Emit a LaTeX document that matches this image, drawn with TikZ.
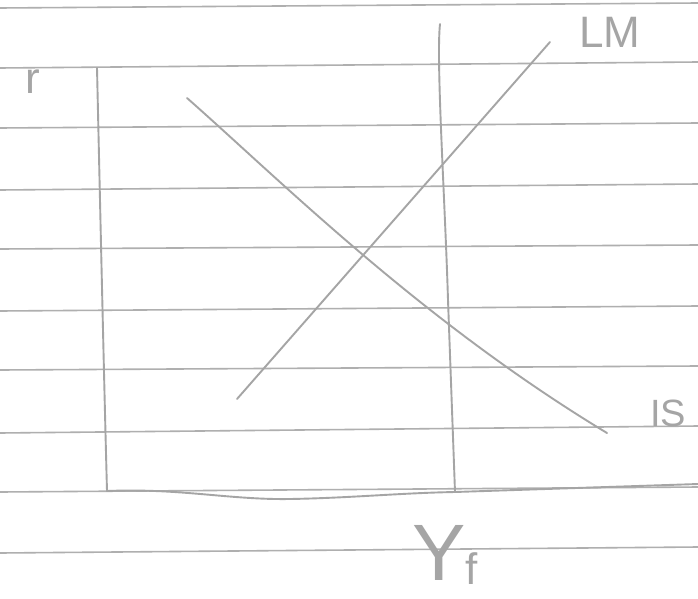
\documentclass[tikz,border=0pt]{standalone}
\usepackage{fontspec}
\setmainfont{Liberation Sans}
\definecolor{pencil}{RGB}{165,165,165}
\definecolor{rule}{RGB}{175,175,175}
\tikzset{
  paperline/.style={draw=rule, line width=1.6pt},
  stroke/.style={draw=pencil, line width=1.9pt, line cap=round, line join=round},
  hand/.style={text=pencil, inner sep=0pt, font=\fontsize{44}{44}\selectfont}
}
\begin{document}
\begin{tikzpicture}[x=1pt,y=-1pt]
\useasboundingbox[fill=white] (0,0) rectangle (698,599);
% ruled paper
\foreach \l/\r in {8/3,68/62,128/123,190/184,249/245,311/306,370/366,433/426,492/487,553/547}{
  \draw[paperline] (0,\l) -- (698,\r);
}
% axes
\coordinate (otop) at (97,68);
\coordinate (orig) at (107,491);
\coordinate (yftop) at (440,24);
\coordinate (yfbot) at (455,492);
\coordinate (xend) at (698,484);
\draw[stroke] (otop) .. controls (100,200) and (104,380) .. (orig);
\draw[stroke] (orig) .. controls (180,488) and (230,500) .. (290,499)
  .. controls (350,498) and (400,493) .. (yfbot) -- (xend);
\draw[stroke] (yftop) .. controls (436,60) and (445,200) .. (448,300) -- (yfbot);
% LM and IS
\coordinate (lma) at (237,399);
\coordinate (lmb) at (550,42);
\coordinate (isa) at (187,98);
\coordinate (isb) at (607,433);
\draw[stroke] (lma) -- (lmb);
\draw[stroke] (isa) .. controls (280,180) and (420,320) .. (isb);
% labels
\node[hand] (r) at (33,82) {r};
\node[hand] (LM) at (610,32) {LM};
\node[hand, font=\fontsize{38}{38}\selectfont] (IS) at (668,413) {IS};
\node[hand, font=\fontsize{80}{80}\selectfont, anchor=base west] (Y) at (412,580)
  {Y\raisebox{-0.05em}{\fontsize{44}{44}\selectfont f}};
\end{tikzpicture}
\end{document}
